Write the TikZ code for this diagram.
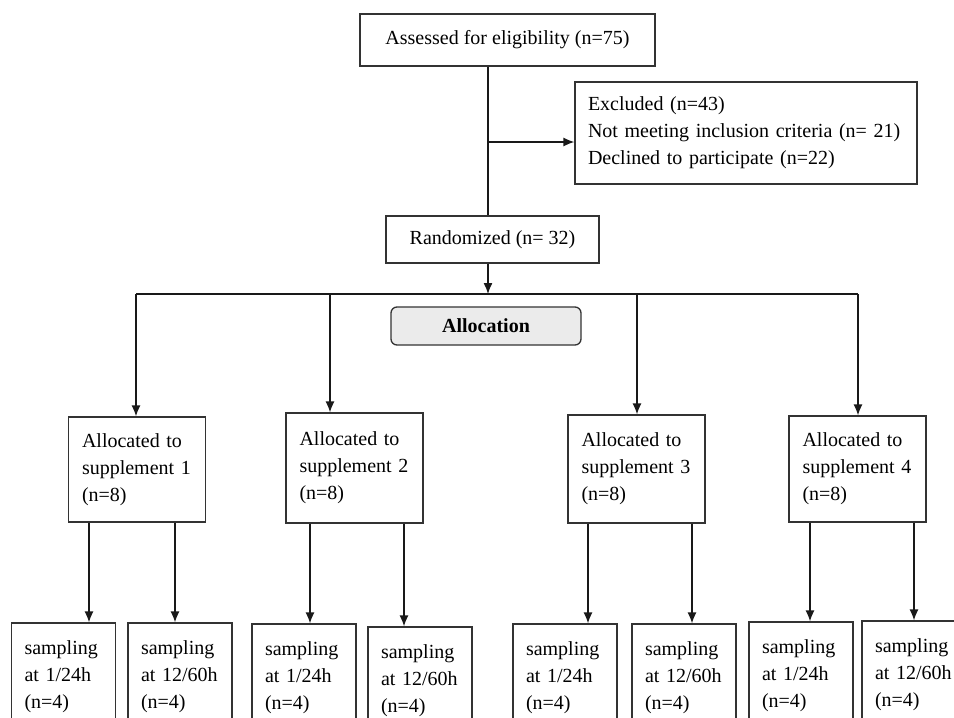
\documentclass[tikz,border=0pt]{standalone}
\usepackage{fontspec}
\setmainfont{Liberation Serif}
\usetikzlibrary{arrows.meta}
\begin{document}
\begin{tikzpicture}[x=1pt,y=-1pt,
  box/.style={draw=black!80, line width=1.3pt, font=\fontsize{20}{27}\selectfont, inner ysep=0pt},
  leftbox/.style={box, align=left},
  alloc/.style={leftbox, text width=110pt, inner xsep=13.5pt, minimum height=#1},
  samp/.style={leftbox, text width=78pt, inner xsep=13pt, minimum height=108pt},
  ln/.style={line width=1.3pt, draw=black!90},
  arr/.style={ln, -{Latex[length=11pt,width=9pt]}}]
\useasboundingbox (0,0) rectangle (954,718);
\clip (0,0) rectangle (954,718);

% main boxes
\node[box, align=center, minimum width=295pt, minimum height=52pt] (top) at (507.5,40) {Assessed for eligibility (n=75)};
\node[leftbox, text width=316pt, inner xsep=13pt, minimum height=102pt] (excl) at (746,133)
  {\raisebox{-3pt}{Excluded (n=43)}\\\raisebox{-3pt}{Not meeting inclusion criteria (n= 21)}\\\raisebox{-3pt}{Declined to participate (n=22)}};
\node[box, align=center, minimum width=213pt, minimum height=47pt] (rand) at (492.5,239.5) {Randomized (n= 32)};
\node[box, align=center, rounded corners=6pt, fill=black!8, minimum width=190pt, minimum height=38pt,
  font=\fontsize{20}{27}\selectfont\bfseries] (allocation) at (486,326) {Allocation};

% allocated boxes
\node[alloc=105pt] (a1) at (137,469.5) {Allocated to\\supplement 1\\(n=8)};
\node[alloc=110pt] (a2) at (354.5,468) {Allocated to\\supplement 2\\(n=8)};
\node[alloc=108pt] (a3) at (636.5,469) {Allocated to\\supplement 3\\(n=8)};
\node[alloc=106pt] (a4) at (857.5,469) {Allocated to\\supplement 4\\(n=8)};

% sampling boxes
\node[samp] (s1) at (63.5,677) {sampling\\at 1/24h\\(n=4)};
\node[samp] (s2) at (180,677) {sampling\\at 12/60h\\(n=4)};
\node[samp] (s3) at (304,678) {sampling\\at 1/24h\\(n=4)};
\node[samp] (s4) at (420,681) {sampling\\at 12/60h\\(n=4)};
\node[samp] (s5) at (565,678) {sampling\\at 1/24h\\(n=4)};
\node[samp] (s6) at (684,678) {sampling\\at 12/60h\\(n=4)};
\node[samp] (s7) at (801,676) {sampling\\at 1/24h\\(n=4)};
\node[samp] (s8) at (914,675) {sampling\\at 12/60h\\(n=4)};

% connectors
\coordinate (vx) at (488,0);
\coordinate (ey) at (0,142);
\coordinate (hy) at (0,294);
\draw[ln] (top.south -| vx) -- (rand.north -| vx);
\draw[arr] (vx |- ey) -- (excl.west |- ey);
\draw[arr] (rand.south -| vx) -- (vx |- hy);

\coordinate (b1) at (136,294);
\coordinate (b2) at (330,294);
\coordinate (b3) at (637,294);
\coordinate (b4) at (858,294);
\draw[ln] (b1) -- (b4);
\draw[arr] (b1) -- (a1.north -| b1);
\draw[arr] (b2) -- (a2.north -| b2);
\draw[arr] (b3) -- (a3.north -| b3);
\draw[arr] (b4) -- (a4.north -| b4);

\coordinate (p1) at (89,0);
\coordinate (p2) at (175,0);
\coordinate (p3) at (310,0);
\coordinate (p4) at (404,0);
\coordinate (p5) at (588,0);
\coordinate (p6) at (692,0);
\coordinate (p7) at (810,0);
\coordinate (p8) at (914,0);
\draw[arr] (a1.south -| p1) -- (s1.north -| p1);
\draw[arr] (a1.south -| p2) -- (s2.north -| p2);
\draw[arr] (a2.south -| p3) -- (s3.north -| p3);
\draw[arr] (a2.south -| p4) -- (s4.north -| p4);
\draw[arr] (a3.south -| p5) -- (s5.north -| p5);
\draw[arr] (a3.south -| p6) -- (s6.north -| p6);
\draw[arr] (a4.south -| p7) -- (s7.north -| p7);
\draw[arr] (a4.south -| p8) -- (s8.north -| p8);
\end{tikzpicture}
\end{document}
